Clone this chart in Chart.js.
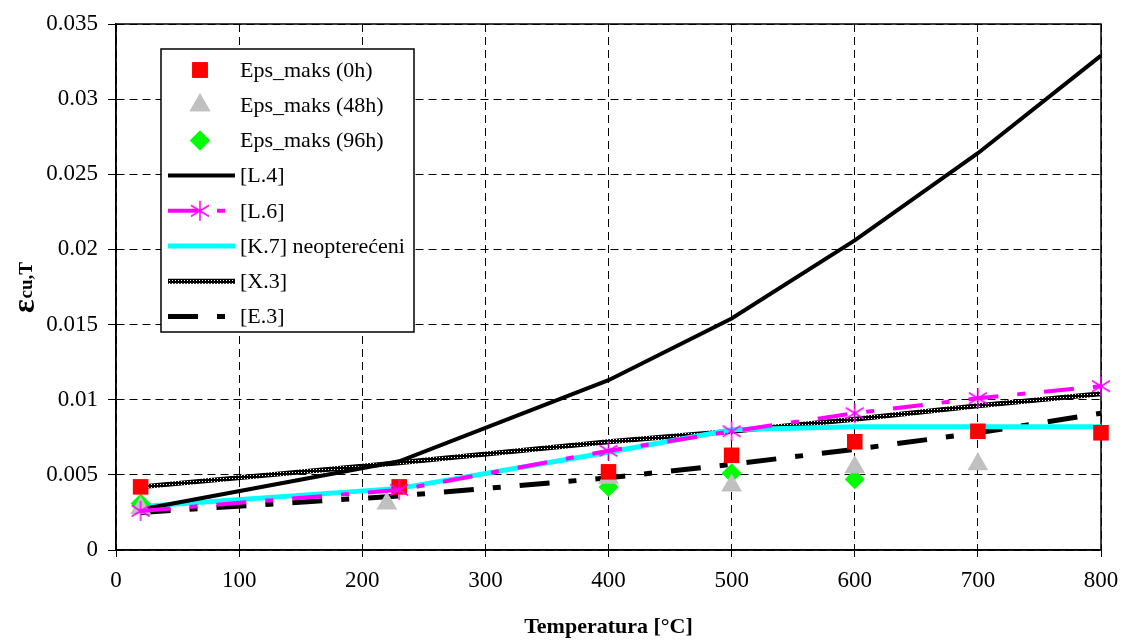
<!DOCTYPE html>
<html>
<head>
<meta charset="utf-8">
<script src="https://cdn.jsdelivr.net/npm/chart.js@4"></script>
<style>
  html, body { margin: 0; padding: 0; background: #fff; }
</style>
</head>
<body>
<canvas id="chart" width="1122" height="641"></canvas>
<script>
// temperatures [°C]
var markTemps0h  = [20, 230, 400, 500, 600, 700, 800];
var eps0h        = [0.0042, 0.0042, 0.0052, 0.0063, 0.0072, 0.0079, 0.0078];
var markTemps48h = [20, 220, 400, 500, 600, 700];
var eps48h       = [0.0028, 0.0031, 0.0048, 0.0043, 0.0055, 0.0057];
var markTemps96h = [20, 400, 500, 600];
var eps96h       = [0.0031, 0.0042, 0.0051, 0.0047];

var lineTemps = [20, 230, 400, 500, 600, 700, 800];
var epsL4  = [0.0027, 0.0059, 0.0113, 0.0154, 0.0206, 0.0264, 0.0329];
var epsL6  = [0.0026, 0.0040, 0.0066, 0.0079, 0.0091, 0.0101, 0.0109];
var epsK7  = [0.0029, 0.0041, 0.0065, 0.0080, 0.0082, 0.0082, 0.0082];
var epsX3  = [0.0042, 0.0058, 0.0072, 0.0079, 0.0087, 0.0096, 0.0104];
var epsE3  = [0.0025, 0.0036, 0.0048, 0.0057, 0.0067, 0.0078, 0.0091];

var xMin = 0, xMax = 800, xStep = 100;
var yMin = 0, yMax = 0.035, yStep = 0.005;

var FONT = '"Liberation Serif", "Times New Roman", serif';

function pts(xs, ys) {
  return xs.map(function(x, i) { return {x: x, y: ys[i]}; });
}

// asterisk marker like the Excel one
var star = document.createElement('canvas');
star.width = 22; star.height = 22;
(function() {
  var c = star.getContext('2d');
  c.strokeStyle = '#ff00ff';
  c.lineWidth = 1.5;
  c.beginPath();
  c.moveTo(11, 1); c.lineTo(11, 21);
  c.moveTo(2, 5.5); c.lineTo(20, 16.5);
  c.moveTo(2, 16.5); c.lineTo(20, 5.5);
  c.stroke();
})();

// dotted texture for [X.3]
var tex = document.createElement('canvas');
tex.width = 3; tex.height = 3;
(function() {
  var c = tex.getContext('2d');
  c.fillStyle = '#000';
  c.fillRect(0, 0, 3, 3);
  c.fillStyle = '#fff';
  c.fillRect(1, 1, 1, 1);
})();
var x3Pattern = document.getElementById('chart').getContext('2d').createPattern(tex, 'repeat');

var datasets = [
  {label: 'Eps_maks (0h)', type: 'scatter', data: pts(markTemps0h, eps0h),
   pointStyle: 'rect', pointRadius: 11, backgroundColor: '#ff0000', borderColor: '#ff0000', borderWidth: 0, order: 2},
  {label: 'Eps_maks (48h)', type: 'scatter', data: pts(markTemps48h, eps48h),
   pointStyle: 'triangle', pointRadius: 12, backgroundColor: '#c0c0c0', borderColor: '#c0c0c0', borderWidth: 0, order: 2},
  {label: 'Eps_maks (96h)', type: 'scatter', data: pts(markTemps96h, eps96h),
   pointStyle: 'rectRot', pointRadius: 10, backgroundColor: '#00ff00', borderColor: '#00ff00', borderWidth: 0, order: 2},
  {label: '[L.4]', type: 'line', data: pts(lineTemps, epsL4),
   borderColor: '#000', borderWidth: 4, pointRadius: 0, order: 3},
  {label: '[L.6]', type: 'line', data: pts(lineTemps, epsL6),
   borderColor: '#ff00ff', borderWidth: 4, borderDash: [30, 19, 8, 19], pointStyle: star, pointRadius: 10, order: 1},
  {label: '[K.7] neopterećeni', type: 'line', data: pts(lineTemps, epsK7),
   borderColor: '#00ffff', borderWidth: 5, pointRadius: 0, order: 3},
  {label: '[X.3]', type: 'line', data: pts(lineTemps, epsX3),
   borderColor: x3Pattern, borderWidth: 5, pointRadius: 0, order: 3},
  {label: '[E.3]', type: 'line', data: pts(lineTemps, epsE3),
   borderColor: '#000', borderWidth: 5, borderDash: [30, 19, 8, 19], pointRadius: 0, order: 3}
];
datasets.forEach(function(ds) { ds.clip = false; });

var framePlugin = {
  id: 'frame',
  beforeDatasetsDraw: function(chart) {
    var a = chart.chartArea, ctx = chart.ctx;
    ctx.save();
    ctx.strokeStyle = '#000';
    ctx.lineWidth = 1.5;
    ctx.strokeRect(a.left, a.top, a.right - a.left, a.bottom - a.top);
    ctx.restore();
  },
  afterDraw: function(chart) {
    var ctx = chart.ctx;
    // y axis title: epsilon with subscript
    ctx.save();
    ctx.translate(26, 288);
    ctx.rotate(-Math.PI / 2);
    ctx.fillStyle = '#000';
    ctx.textBaseline = 'middle';
    ctx.textAlign = 'left';
    ctx.font = 'bold 32px ' + FONT;
    var w1 = ctx.measureText('ε').width;
    ctx.font = 'bold 19px ' + FONT;
    var w2 = ctx.measureText('cu,T').width;
    var x0 = -(w1 + w2) / 2;
    ctx.font = 'bold 32px ' + FONT;
    ctx.fillText('ε', x0, 0);
    ctx.font = 'bold 19px ' + FONT;
    ctx.fillText('cu,T', x0 + w1 + 1, 1);
    ctx.restore();

    // legend box
    var bx = 161, by = 49, bw = 253, bh = 283;
    ctx.save();
    ctx.fillStyle = '#fff';
    ctx.fillRect(bx, by, bw, bh);
    ctx.strokeStyle = '#000';
    ctx.lineWidth = 1.5;
    ctx.strokeRect(bx, by, bw, bh);
    chart.data.datasets.forEach(function(ds, i) {
      var y = 70 + i * 35.2;
      if (ds.type === 'scatter') {
        ctx.fillStyle = ds.backgroundColor;
        Chart.helpers.drawPoint(ctx, {pointStyle: ds.pointStyle, radius: ds.pointRadius, borderWidth: 0}, 200, y);
        ctx.fill();
      } else {
        ctx.save();
        ctx.strokeStyle = ds.borderColor;
        ctx.lineWidth = ds.borderWidth;
        ctx.setLineDash(ds.borderDash || []);
        ctx.beginPath();
        ctx.moveTo(168, y);
        ctx.lineTo(235, y);
        ctx.stroke();
        ctx.restore();
        if (ds.pointRadius > 0) {
          ctx.drawImage(ds.pointStyle, 200 - 11, y - 11);
        }
      }
      ctx.fillStyle = '#000';
      ctx.font = '22px ' + FONT;
      ctx.textAlign = 'left';
      ctx.textBaseline = 'middle';
      ctx.fillText(ds.label, 240, y + 1);
    });
    ctx.restore();
  }
};

new Chart(document.getElementById('chart'), {
  type: 'scatter',
  data: {datasets: datasets},
  options: {
    responsive: false,
    animation: false,
    devicePixelRatio: 1,
    layout: {padding: {left: 0, top: 24, right: 21, bottom: 0}},
    elements: {line: {tension: 0, fill: false}},
    plugins: {legend: {display: false}, tooltip: {enabled: false}},
    scales: {
      x: {
        type: 'linear', min: xMin, max: xMax,
        ticks: {stepSize: xStep, color: '#000', font: {family: FONT, size: 23}, padding: 10, maxRotation: 0},
        grid: {color: '#000', lineWidth: 1, tickLength: 7, tickColor: '#000', tickBorderDash: []},
        border: {display: true, color: '#000', width: 1.5, dash: [8, 5]},
        title: {display: true, text: 'Temperatura [°C]', color: '#000',
                font: {family: FONT, size: 22, weight: 'bold'}, padding: {top: 0, bottom: 0}},
        afterFit: function(s) { s.height = 91; s.paddingLeft = 0; s.paddingRight = 0; }
      },
      y: {
        type: 'linear', min: yMin, max: yMax,
        ticks: {stepSize: yStep, color: '#000', font: {family: FONT, size: 23}, padding: 10,
                callback: function(v) { return String(+v.toFixed(3)); }},
        grid: {color: '#000', lineWidth: 1, tickLength: 8, tickColor: '#000', tickBorderDash: []},
        border: {display: true, color: '#000', width: 1.5, dash: [8, 5]},
        afterFit: function(s) { s.width = 116; s.paddingTop = 0; s.paddingBottom = 0; }
      }
    }
  },
  plugins: [framePlugin]
});
</script>
</body>
</html>
